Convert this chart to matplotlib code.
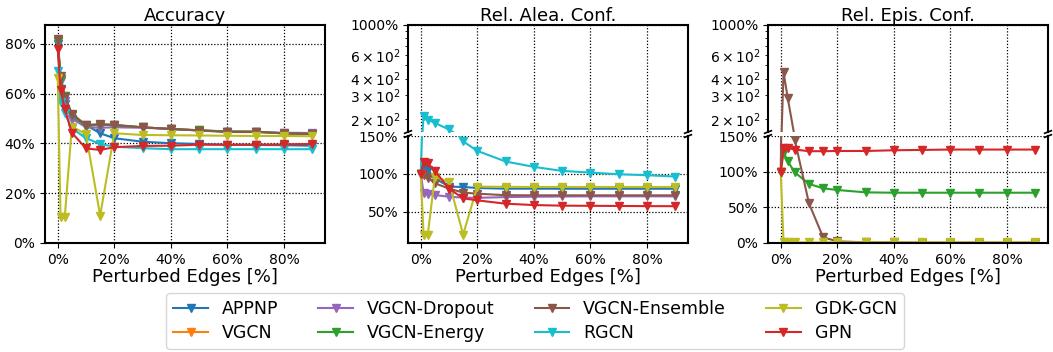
import matplotlib
matplotlib.use('Agg')
import matplotlib.pyplot as plt
import numpy as np
from matplotlib.ticker import PercentFormatter, FuncFormatter, MultipleLocator

# perturbed edges in %
x = [0, 1, 2.5, 5, 10, 15, 20, 30, 40, 50, 60, 70, 80, 90]

models = ['APPNP', 'VGCN', 'VGCN-Dropout', 'VGCN-Energy', 'VGCN-Ensemble', 'RGCN', 'GDK-GCN', 'GPN']
colors = ['tab:blue', 'tab:orange', 'tab:purple', 'tab:green', 'tab:brown', 'tab:cyan', 'tab:olive', 'tab:red']

# accuracy [%]
acc_appnp = [80, 62, 56, 50, 47.4, 44.1, 42.1, 40.7, 40.1, 39.8, 39.4, 39.4, 39.3, 39.1]
acc_vgcn = [81, 66, 59, 51.5, 47, 47.6, 47.3, 46.5, 45.8, 45.3, 44.8, 44.8, 44.0, 43.8]
acc_dropout = [81, 65, 57, 50, 46.5, 46.3, 46.5, 46.3, 45.9, 45.2, 44.8, 44.6, 44.3, 44.2]
acc_energy = [81, 66, 59, 51.5, 47, 47.6, 47.3, 46.5, 45.8, 45.3, 44.8, 44.8, 44.0, 43.8]
acc_ensemble = [82, 67, 58.8, 52, 47.4, 47.8, 47.5, 46.5, 45.8, 45.2, 44.6, 44.6, 44.1, 43.8]
acc_rgcn = [69, 56.8, 52.1, 46.1, 42.1, 39.8, 38.7, 38.1, 37.7, 37.7, 37.7, 37.7, 37.7, 37.7]
acc_gdk = [66.5, 10.6, 10.6, 46.8, 43.7, 11, 44.1, 43.4, 43.3, 43.2, 43.1, 43.0, 43.0, 42.9]
acc_gpn = [78, 61.5, 53.7, 44.3, 38, 37.4, 38.5, 39, 39.1, 39.5, 39.5, 39.5, 39.6, 39.8]

# relative aleatoric confidence [%]
alea_appnp = [100, 108.5, 105, 94.3, 83.3, 82.8, 81.5, 80.6, 80.6, 80.5, 80.5, 80.5, 80.5, 80.5]
alea_dropout = [100, 75.4, 74, 72.2, 70, 68.8, 68.5, 69.5, 70, 70.3, 70.5, 70.5, 70.5, 70.5]
alea_ensemble = [100, 98.3, 95.2, 87.7, 80.7, 75.4, 74, 72, 71.8, 71.8, 71.8, 71.8, 71.8, 71.8]
alea_rgcn = [100, 211, 198, 187, 167, 142.9, 130.4, 116.4, 109.3, 104, 101.8, 99.6, 98.3, 96.6]
alea_gdk = [100, 20.2, 20.2, 96.5, 89.4, 20.2, 83.3, 83, 82.8, 82.8, 82.8, 82.8, 82.8, 82.8]
alea_gpn = [100, 115.9, 114, 104, 80.7, 67.9, 65.2, 60.8, 59, 58.2, 58, 57.8, 57.6, 57.5]

# relative epistemic confidence [%]
epis_energy = [100, 127.3, 114.5, 98.9, 82.8, 76.7, 74.3, 71, 70.5, 70.5, 70.5, 70.5, 70.5, 70.5]
epis_ensemble = [100, 446, 284, 144, 55.4, 8, 2.3, 1, 0.8, 0.6, 0.5, 0.5, 0.5, 0.5]
epis_gdk = [100, 0.8, 0.8, 0.8, 0.8, 0.8, 0.8, 0.8, 0.8, 0.8, 0.8, 0.8, 0.8, 0.8]
epis_gpn = [100, 133.5, 133.5, 131, 128.7, 128.7, 129, 129, 130, 130.5, 131, 131, 131, 131]

acc = [acc_appnp, acc_vgcn, acc_dropout, acc_energy, acc_ensemble, acc_rgcn, acc_gdk, acc_gpn]
alea = [alea_appnp, None, alea_dropout, None, alea_ensemble, alea_rgcn, alea_gdk, alea_gpn]
epis = [None, None, None, epis_energy, epis_ensemble, None, epis_gdk, epis_gpn]

W, H = 1053, 352
fig = plt.figure(figsize=(W / 100, H / 100), dpi=100)


def box(x0, y0, x1, y1):
    # pixel box -> figure fraction
    return [x0 / W, (H - y1) / H, (x1 - x0) / W, (y1 - y0) / H]


def style(ax):
    for s in ax.spines.values():
        s.set_linewidth(1.5)
    ax.grid(True, which='major', linestyle=(0, (1, 1.5)), color='black', linewidth=0.9)
    ax.tick_params(labelsize=10)


def plot_lines(ax, data):
    lines = []
    for name, c, y in zip(models, colors, data):
        if y is None:
            continue
        l, = ax.plot(x, y, color=c, marker='v', markersize=6, linewidth=1.5, label=name)
        lines.append(l)
    return lines


# accuracy
ax = fig.add_axes(box(45, 25, 325, 243))
handles = plot_lines(ax, acc)
ax.set_ylim(0, 87.6)
ax.yaxis.set_major_formatter(PercentFormatter(decimals=0))
ax.xaxis.set_major_formatter(PercentFormatter(decimals=0))
ax.set_xticks([0, 20, 40, 60, 80])
ax.set_title('Accuracy', fontsize=13, pad=3)
ax.set_xlabel('Perturbed Edges [%]', fontsize=13, labelpad=1)
style(ax)


def broken(x0, x1, data, low, title):
    top = fig.add_axes(box(x0, 25, x1, 132))
    bot = fig.add_axes(box(x0, 136, x1, 243), sharex=top)
    plot_lines(top, data)
    plot_lines(bot, data)
    top.set_yscale('log')
    top.set_ylim(160, 1000)
    top.yaxis.set_major_formatter(FuncFormatter(lambda v, p: '%d%%' % v))
    bot.set_ylim(low, 150)
    bot.yaxis.set_major_locator(MultipleLocator(50))
    bot.yaxis.set_major_formatter(PercentFormatter(decimals=0))
    bot.set_xticks([0, 20, 40, 60, 80])
    bot.xaxis.set_major_formatter(PercentFormatter(decimals=0))
    top.spines['bottom'].set_visible(False)
    bot.spines['top'].set_visible(False)
    top.tick_params(axis='x', bottom=False, labelbottom=False)
    style(top)
    style(bot)
    top.set_title(title, fontsize=13, pad=3)
    bot.set_xlabel('Perturbed Edges [%]', fontsize=13, labelpad=1)
    d = .012
    kw = dict(color='k', clip_on=False, linewidth=1.2)
    top.plot((-d, +d), (-d, +d), transform=top.transAxes, **kw)
    top.plot((1 - d, 1 + d), (-d, +d), transform=top.transAxes, **kw)
    bot.plot((-d, +d), (1 - d, 1 + d), transform=bot.transAxes, **kw)
    bot.plot((1 - d, 1 + d), (1 - d, 1 + d), transform=bot.transAxes, **kw)


broken(408, 688, alea, 9, 'Rel. Alea. Conf.')
broken(768, 1048, epis, 0, 'Rel. Epis. Conf.')

fig.legend(handles=handles, loc='center', bbox_to_anchor=(535 / W, (H - 321) / H),
           ncol=4, fontsize=12.5, labelspacing=0.3, columnspacing=2.3)

fig.savefig('out.png', dpi=100)
